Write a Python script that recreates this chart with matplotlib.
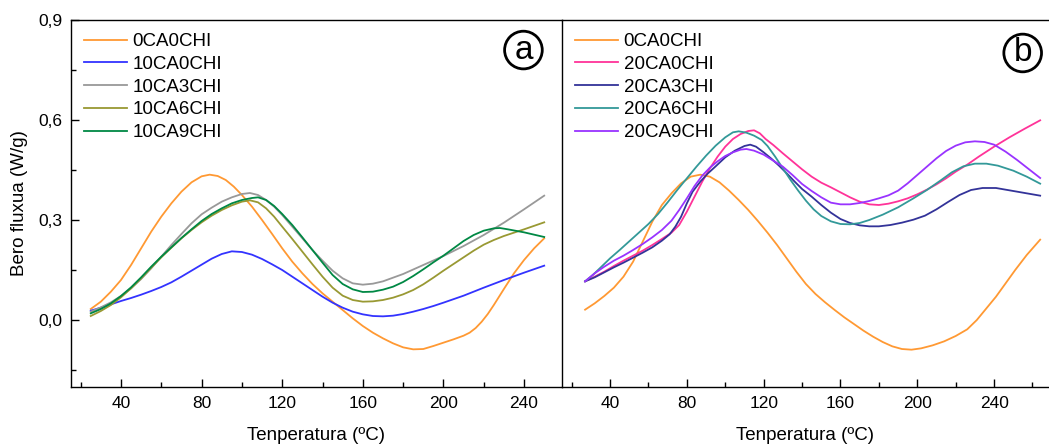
"""DSC heat flow curves, two panels (a) and (b)."""

import matplotlib
matplotlib.use("Agg")
import matplotlib.pyplot as plt
from matplotlib.ticker import MultipleLocator

plt.rcParams["font.family"] = ["Liberation Sans", "DejaVu Sans"]

# panel (a)
t_0ca0chi_a = [25, 30, 35, 40, 45, 50, 55, 60, 65, 70, 75, 80, 84, 88, 92, 96, 100, 105,
               110, 115, 120, 125, 130, 135, 140, 145, 150, 155, 160, 165, 170, 175, 180,
               185, 190, 195, 200, 205, 210, 213, 216, 219, 222, 225, 230, 235, 240, 245,
               250]
v_0ca0chi_a = [0.033, 0.055, 0.085, 0.12, 0.165, 0.215, 0.265, 0.31, 0.35, 0.385, 0.413,
               0.431, 0.436, 0.432, 0.42, 0.4, 0.375, 0.34, 0.3, 0.258, 0.215, 0.175,
               0.14, 0.108, 0.08, 0.055, 0.03, 0.005, -0.018, -0.038, -0.055, -0.07,
               -0.082, -0.088, -0.087, -0.078, -0.068, -0.058, -0.047, -0.038, -0.024,
               -0.005, 0.018, 0.045, 0.093, 0.14, 0.18, 0.215, 0.245]

t_10ca0chi = [25, 30, 35, 40, 45, 50, 55, 60, 65, 70, 75, 80, 85, 90, 95, 100, 105, 110,
              115, 120, 125, 130, 135, 140, 145, 150, 155, 160, 165, 170, 175, 180, 185,
              190, 195, 200, 210, 220, 230, 240, 250]
v_10ca0chi = [0.028, 0.037, 0.047, 0.057, 0.066, 0.076, 0.087, 0.099, 0.113, 0.13, 0.148,
              0.166, 0.184, 0.198, 0.206, 0.204, 0.196, 0.183, 0.167, 0.15, 0.13, 0.11,
              0.09, 0.07, 0.052, 0.037, 0.025, 0.017, 0.012, 0.011, 0.013, 0.018, 0.025,
              0.033, 0.042, 0.052, 0.073, 0.097, 0.12, 0.142, 0.163]

t_10ca3chi = [25, 30, 35, 40, 45, 50, 55, 60, 65, 70, 75, 80, 85, 90, 95, 100, 104, 108,
              112, 116, 120, 125, 130, 135, 140, 145, 150, 155, 160, 165, 170, 180, 190,
              200, 210, 220, 230, 240, 250]
v_10ca3chi = [0.025, 0.038, 0.053, 0.072, 0.095, 0.123, 0.155, 0.19, 0.225, 0.258, 0.29,
              0.317, 0.337, 0.355, 0.368, 0.378, 0.381, 0.375, 0.36, 0.34, 0.315, 0.28,
              0.245, 0.21, 0.178, 0.148, 0.125, 0.11, 0.106, 0.109, 0.116, 0.138, 0.165,
              0.192, 0.222, 0.255, 0.292, 0.332, 0.373]

t_10ca6chi = [25, 30, 35, 40, 45, 50, 55, 60, 65, 70, 75, 80, 85, 90, 95, 100, 104, 108,
              112, 116, 120, 125, 130, 135, 140, 145, 150, 155, 160, 165, 170, 175, 180,
              185, 190, 195, 200, 205, 210, 215, 220, 225, 230, 240, 250]
v_10ca6chi = [0.012, 0.027, 0.045, 0.068, 0.095, 0.125, 0.157, 0.188, 0.217, 0.245, 0.27,
              0.293, 0.313, 0.33, 0.344, 0.355, 0.359, 0.353, 0.335, 0.31, 0.28, 0.243,
              0.205, 0.167, 0.13, 0.097, 0.073, 0.06, 0.055, 0.056, 0.06, 0.067, 0.077,
              0.09, 0.107, 0.127, 0.148, 0.168, 0.188, 0.208, 0.226, 0.24, 0.252, 0.272,
              0.293]

t_10ca9chi = [25, 30, 35, 40, 45, 50, 55, 60, 65, 70, 75, 80, 85, 90, 95, 100, 105, 108,
              112, 116, 120, 125, 130, 135, 140, 145, 150, 155, 160, 165, 170, 175, 180,
              185, 190, 195, 200, 205, 210, 215, 220, 225, 228, 232, 240, 250]
v_10ca9chi = [0.02, 0.033, 0.05, 0.072, 0.098, 0.128, 0.16, 0.19, 0.218, 0.246, 0.272,
              0.297, 0.318, 0.335, 0.35, 0.36, 0.366, 0.368, 0.36, 0.342, 0.318, 0.285,
              0.248, 0.21, 0.172, 0.135, 0.108, 0.092, 0.084, 0.085, 0.091, 0.1, 0.114,
              0.132, 0.152, 0.173, 0.193, 0.215, 0.237, 0.255, 0.268, 0.275, 0.276,
              0.272, 0.263, 0.249]

# panel (b)
t_0ca0chi_b = [27, 32, 37, 42, 47, 52, 57, 62, 67, 72, 77, 82, 87, 92, 97, 102, 107, 112,
               117, 122, 127, 132, 137, 142, 147, 152, 157, 162, 167, 172, 177, 182, 187,
               192, 197, 202, 208, 214, 220, 226, 231, 236, 241, 246, 251, 257, 264]
v_0ca0chi_b = [0.031, 0.05, 0.072, 0.097, 0.13, 0.175, 0.235, 0.295, 0.345, 0.38, 0.41,
               0.43, 0.436, 0.43, 0.413, 0.388, 0.36, 0.33, 0.297, 0.262, 0.225, 0.185,
               0.145, 0.108, 0.078, 0.053, 0.03, 0.008, -0.012, -0.032, -0.05, -0.066,
               -0.079, -0.087, -0.089, -0.085, -0.076, -0.064, -0.048, -0.028, 0.0,
               0.035, 0.07, 0.11, 0.15, 0.195, 0.241]

t_20ca0chi = [27, 32, 37, 42, 47, 52, 57, 62, 67, 72, 76, 80, 84, 88, 92, 96, 100, 104,
              108, 112, 115, 118, 121, 125, 130, 135, 140, 145, 150, 155, 160, 165, 170,
              175, 180, 185, 190, 195, 200, 205, 210, 215, 220, 226, 232, 240, 248, 256,
              264]
v_20ca0chi = [0.116, 0.13, 0.145, 0.162, 0.178, 0.193, 0.208, 0.225, 0.243, 0.262, 0.285,
              0.325, 0.37, 0.415, 0.455, 0.49, 0.52, 0.543, 0.558, 0.567, 0.569, 0.56,
              0.543, 0.525, 0.5, 0.476, 0.452, 0.43, 0.412, 0.398, 0.383, 0.368, 0.355,
              0.347, 0.345, 0.349, 0.356, 0.365, 0.377, 0.391, 0.407, 0.425, 0.445,
              0.466, 0.49, 0.52, 0.548, 0.574, 0.599]

t_20ca3chi = [27, 32, 37, 42, 47, 52, 57, 62, 67, 71, 74, 77, 80, 83, 87, 91, 95, 100,
              105, 110, 113, 116, 120, 124, 128, 132, 136, 140, 145, 150, 155, 160, 165,
              170, 175, 180, 186, 192, 198, 204, 210, 216, 222, 228, 234, 241, 248, 256,
              264]
v_20ca3chi = [0.116, 0.128, 0.143, 0.158, 0.172, 0.187, 0.202, 0.218, 0.238, 0.257, 0.28,
              0.31, 0.35, 0.385, 0.415, 0.44, 0.461, 0.488, 0.508, 0.522, 0.526, 0.52,
              0.503, 0.484, 0.463, 0.44, 0.416, 0.393, 0.37, 0.345, 0.322, 0.303, 0.291,
              0.284, 0.281, 0.281, 0.285, 0.292, 0.301, 0.313, 0.332, 0.354, 0.375, 0.39,
              0.396, 0.396, 0.389, 0.381, 0.373]

t_20ca6chi = [27, 31, 35, 40, 45, 50, 55, 60, 65, 70, 75, 80, 85, 90, 95, 100, 104, 107,
              111, 115, 119, 122, 126, 130, 134, 138, 142, 146, 150, 155, 160, 165, 170,
              175, 182, 190, 198, 205, 212, 218, 224, 230, 236, 242, 250, 257, 264]
v_20ca6chi = [0.116, 0.135, 0.157, 0.185, 0.21, 0.236, 0.262, 0.288, 0.318, 0.353, 0.39,
              0.425, 0.46, 0.493, 0.523, 0.548, 0.563, 0.566, 0.562, 0.553, 0.54, 0.522,
              0.49, 0.455, 0.42, 0.388, 0.358, 0.332, 0.312, 0.296, 0.288, 0.287, 0.291,
              0.3, 0.316, 0.338, 0.365, 0.39, 0.418, 0.443, 0.461, 0.469, 0.469, 0.463,
              0.448, 0.43, 0.409]

t_20ca9chi = [27, 32, 37, 42, 47, 52, 57, 62, 67, 72, 76, 80, 84, 88, 92, 96, 100, 104,
              108, 111, 115, 120, 125, 130, 135, 140, 145, 150, 155, 160, 165, 170, 175,
              180, 185, 190, 195, 200, 205, 210, 215, 220, 225, 230, 235, 240, 246, 252,
              258, 264]
v_20ca9chi = [0.116, 0.14, 0.16, 0.178, 0.193, 0.21, 0.228, 0.248, 0.27, 0.298, 0.33,
              0.365, 0.402, 0.433, 0.457, 0.476, 0.492, 0.503, 0.511, 0.513, 0.508, 0.496,
              0.478, 0.46, 0.435, 0.408, 0.387, 0.368, 0.352, 0.347, 0.347, 0.351, 0.357,
              0.365, 0.374, 0.388, 0.41, 0.435, 0.46, 0.485, 0.507, 0.523, 0.533, 0.536,
              0.534, 0.526, 0.505, 0.48, 0.453, 0.426]

ORANGE = "#ff9933"
series_a = [
    ("0CA0CHI", t_0ca0chi_a, v_0ca0chi_a, ORANGE),
    ("10CA0CHI", t_10ca0chi, v_10ca0chi, "#3333ff"),
    ("10CA3CHI", t_10ca3chi, v_10ca3chi, "#999999"),
    ("10CA6CHI", t_10ca6chi, v_10ca6chi, "#999933"),
    ("10CA9CHI", t_10ca9chi, v_10ca9chi, "#008844"),
]
series_b = [
    ("0CA0CHI", t_0ca0chi_b, v_0ca0chi_b, ORANGE),
    ("20CA0CHI", t_20ca0chi, v_20ca0chi, "#ff3399"),
    ("20CA3CHI", t_20ca3chi, v_20ca3chi, "#333399"),
    ("20CA6CHI", t_20ca6chi, v_20ca6chi, "#339999"),
    ("20CA9CHI", t_20ca9chi, v_20ca9chi, "#9933ff"),
]

fig = plt.figure(figsize=(10.49, 4.46), dpi=100)
ax_a = fig.add_axes([0.0673, 0.133, 0.4682, 0.8222])
ax_b = fig.add_axes([0.5355, 0.133, 0.4645, 0.8222], sharey=ax_a)


def draw_panel(ax, series, xlim, letter, letter_pos):
    for label, t, v, color in series:
        ax.plot(t, v, color=color, lw=1.3, label=label)
    ax.set_xlim(*xlim)
    ax.set_ylim(-0.2, 0.9)
    ax.xaxis.set_major_locator(MultipleLocator(40))
    ax.xaxis.set_minor_locator(MultipleLocator(20))
    ax.tick_params(which="both", direction="in", labelsize=12.5, width=1)
    ax.tick_params(axis="x", which="both", pad=7)
    ax.tick_params(axis="y", which="both", pad=6)
    ax.tick_params(which="major", length=6)
    ax.tick_params(which="minor", length=3.5)
    for s in ax.spines.values():
        s.set_linewidth(1)
    ax.set_xlabel("Tenperatura (ºC)", fontsize=13.5, labelpad=11)
    ax.legend(loc="upper left", frameon=False, fontsize=13.5, handlelength=2.3,
              handletextpad=0.3, labelspacing=0.3, borderaxespad=0.3)
    ax.text(letter_pos[0], letter_pos[1], letter, transform=ax.transAxes, fontsize=24,
            ha="center", va="center",
            bbox=dict(boxstyle="circle,pad=0.1", fc="white", ec="black", lw=2))


draw_panel(ax_a, series_a, (15, 258.7), "a", (0.922, 0.918))
draw_panel(ax_b, series_b, (14.84, 268.6), "b", (0.946, 0.91))

ax_a.set_yticks([0.0, 0.3, 0.6, 0.9])
ax_a.set_yticklabels(["0,0", "0,3", "0,6", "0,9"])
ax_a.yaxis.set_minor_locator(MultipleLocator(0.15))
ax_a.set_ylabel("Bero fluxua (W/g)", fontsize=13.5, labelpad=7)
ax_a.spines["right"].set_visible(False)

ax_b.tick_params(axis="y", which="both", left=False, labelleft=False)
ax_b.spines["right"].set_visible(False)

fig.savefig("out.png", dpi=100)
